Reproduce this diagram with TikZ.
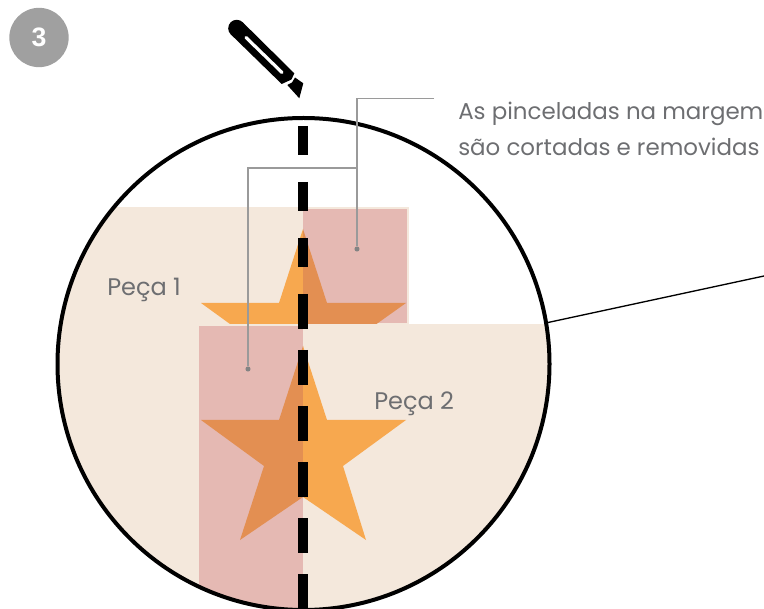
\documentclass[tikz,border=0pt]{standalone}
\usepackage{fontspec}
\setmainfont{Poppins}
\setsansfont{Liberation Sans}
\usepackage{tikz}
\usetikzlibrary{positioning}
\definecolor{pieceBeige}{HTML}{F4E8DC}
\definecolor{marginPink}{HTML}{E5B9B3}
\definecolor{starLight}{HTML}{F7A84F}
\definecolor{starDark}{HTML}{E38F52}
\definecolor{leadGray}{HTML}{9A9A9A}
\definecolor{textGray}{HTML}{6D6E71}
\definecolor{badgeGray}{HTML}{A0A0A0}
\tikzset{
  notelabel/.style={text=textGray,inner sep=0pt,font=\fontsize{17.2}{27.5}\selectfont},
  partlabel/.style={text=textGray,inner sep=0pt,font=\fontsize{18}{22}\selectfont},
  lead/.style={draw=leadGray,line width=0.9pt},
  leaddot/.style={circle,fill=leadGray!85!black,inner sep=0pt,minimum size=3.8pt},
  cut/.style={line width=7.5pt,black}
}
\begin{document}
\begin{tikzpicture}[x=0.75pt,y=-0.75pt]
  \useasboundingbox (0,0) rectangle (764,609);
  \begin{scope}
    \clip (303.5,364) circle [radius=246];
    \fill[pieceBeige] (50,207) rectangle (303,620);
    \fill[pieceBeige] (303,207) rectangle (409,324);
    \fill[pieceBeige] (303,324) rectangle (560,620);
    \fill[marginPink] (303,209) rectangle (407,323.5);
    \fill[marginPink] (199,326) rectangle (303,620);
  \end{scope}
  \fill[starLight] (303,229) -- (279,303) -- (201,303) -- (230,324) -- (303,324) -- cycle;
  \fill[starDark] (303,229) -- (327,303) -- (406,303) -- (376.5,324) -- (303,324) -- cycle;
  \fill[starDark] (303,346) -- (279,420) -- (201,420) -- (264,466) -- (240,540) -- (303,497) -- cycle;
  \fill[starLight] (303,346) -- (327,420) -- (406,420) -- (343,466) -- (366,540) -- (303,497) -- cycle;
  \node[circle,draw=black,line width=3pt,minimum size=369pt,inner sep=0pt] (lens) at (303.5,364) {};
  \coordinate (lensedge) at (548,322.5);
  \coordinate (zoomend) at (764,276);
  \draw[black,line width=1pt] (lensedge) -- (zoomend);
  \coordinate (cuttop) at (303,126);
  \coordinate (cutmid) at (303,290);
  \coordinate (cutlow) at (303,294);
  \coordinate (cutend) at (303,612);
  \draw[cut,dash pattern=on 22pt off 20pt] (cuttop) -- (cutmid);
  \draw[cut,dash pattern=on 26.25pt off 15.75pt] (cutlow) -- (cutend);
  \node[leaddot] (dotright) at (357,249) {};
  \node[leaddot] (dotleft) at (248,369) {};
  \coordinate (leadstart) at (434,98.5);
  \coordinate (leadcorner) at (357,98.5);
  \coordinate (leadjoin) at (357,168);
  \coordinate (leadturn) at (248,168);
  \draw[lead] (leadstart) -- (leadcorner) -- (dotright);
  \draw[lead] (leadjoin) -- (leadturn) -- (dotleft);
  \node[notelabel,anchor=west,align=left] (note) at (458,129) {As pinceladas na margem\\são cortadas e removidas};
  \node[partlabel,anchor=west] (peca1) at (107,290) {Peça 1};
  \node[partlabel,anchor=west] (peca2) at (374,404) {Peça 2};
  \node[circle,fill=badgeGray,minimum size=44.5pt,inner sep=0pt,text=white,font=\sffamily\bfseries\fontsize{20}{20}\selectfont] (badge) at (39,37.5) {3};
  % knife
  \fill[black] (236.7,28.3) circle [radius=8.5];
  \fill[black] (242.6,22.2) -- (294.3,73.3) -- (291.5,79.5) -- (281.7,84) -- (230.8,34.4) -- cycle;
  \draw[white,line width=2.4pt,line cap=round] (246,37.5) -- (282,72.5);
  \fill[black] (295,77.5) -- (303.3,83.3) -- (299.3,98.3) -- (287.3,85) -- (292,82.5) -- cycle;
\end{tikzpicture}
\end{document}
